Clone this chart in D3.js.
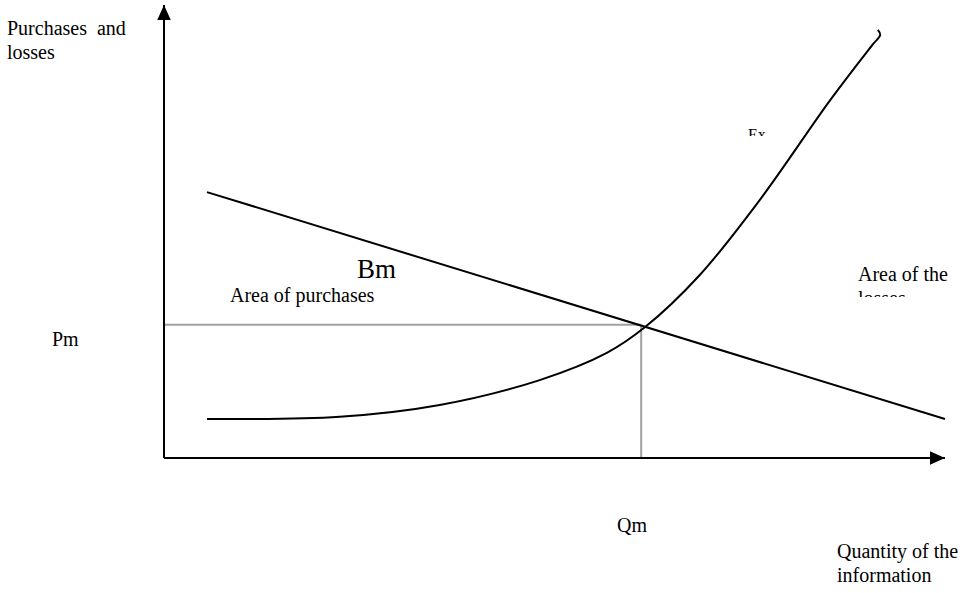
<!DOCTYPE html>
<html>
<head>
<meta charset="utf-8">
<script src="https://cdn.jsdelivr.net/npm/d3@7"></script>
<style>
  body { margin:0; background:#fff; }
  text { font-family: "Liberation Serif", "Times New Roman", serif; fill:#000; }
</style>
</head>
<body>
<div id="canvas"></div>
<script>
// data (axis units 0..100)
var bmLine = [[5.5, 58.7], [100, 8.6]];
var exCurve = [[5.5, 8.6], [22.5, 9.1], [35.3, 11.7], [48.1, 17.2], [56.7, 23.2], [61.6, 28.9],
               [68.6, 40.4], [76.3, 57.0], [85.3, 79.0], [90.7, 91.2], [91.7, 93.4], [91.4, 94.5]];
var pm = 29.4, qm = 61.1;
var yTitle = ['Purchases  and', 'losses'];
var xTitle = ['Quantity of the', 'information'];

var W = 974, H = 593;
var m = {t:5, r:29, b:135, l:164};

var svg = d3.select('#canvas').append('svg')
    .attr('width', W).attr('height', H);

var x = d3.scaleLinear().domain([0,100]).range([m.l, W - m.r]);
var y = d3.scaleLinear().domain([0,100]).range([H - m.b, m.t]);

// arrow markers
var defs = svg.append('defs');
defs.append('marker').attr('id','arr')
    .attr('viewBox','0 0 10 10').attr('refX',10).attr('refY',5)
    .attr('markerWidth',15).attr('markerHeight',15).attr('markerUnits','userSpaceOnUse')
    .attr('orient','auto')
  .append('path').attr('d','M0,0.5L10,5L0,9.5Z').attr('fill','#000');

// guide lines for Pm / Qm
svg.append('line')
    .attr('x1', x(0)).attr('x2', x(qm)).attr('y1', y(pm)).attr('y2', y(pm))
    .attr('stroke','#a0a0a0').attr('stroke-width',2);
svg.append('line')
    .attr('x1', x(qm)).attr('x2', x(qm)).attr('y1', y(pm)).attr('y2', y(0))
    .attr('stroke','#a0a0a0').attr('stroke-width',2);

// axes
svg.append('line')
    .attr('x1', x(0)).attr('y1', y(0)).attr('x2', x(0)).attr('y2', y(100))
    .attr('stroke','#000').attr('stroke-width',2).attr('marker-end','url(#arr)');
svg.append('line')
    .attr('x1', x(0)).attr('y1', y(0)).attr('x2', x(100)).attr('y2', y(0))
    .attr('stroke','#000').attr('stroke-width',2).attr('marker-end','url(#arr)');

var line = d3.line().x(function(d){ return x(d[0]); }).y(function(d){ return y(d[1]); });

svg.append('path').datum(bmLine).attr('d', line)
    .attr('fill','none').attr('stroke','#000').attr('stroke-width',2);

svg.append('path').datum(exCurve).attr('d', line.curve(d3.curveCatmullRom))
    .attr('fill','none').attr('stroke','#000').attr('stroke-width',2);

// labels
svg.append('text').attr('x',7).attr('y',35).attr('font-size',20)
    .attr('xml:space','preserve').style('white-space','pre').text(yTitle[0]);
svg.append('text').attr('x',7).attr('y',59).attr('font-size',20).text(yTitle[1]);

svg.append('text').attr('x',357).attr('y',278).attr('font-size',27).text('Bm');
svg.append('text').attr('x',230).attr('y',302).attr('font-size',20).text('Area of purchases');
svg.append('text').attr('x',52).attr('y',346).attr('font-size',20).text('Pm');
svg.append('text').attr('x',617).attr('y',532).attr('font-size',20).text('Qm');
svg.append('text').attr('x',837).attr('y',558).attr('font-size',20).text(xTitle[0]);
svg.append('text').attr('x',837).attr('y',582).attr('font-size',20).text(xTitle[1]);

// clipped labels
defs.append('clipPath').attr('id','clipEx')
  .append('rect').attr('x',740).attr('y',110).attr('width',40).attr('height',26);
svg.append('text').attr('x',748).attr('y',140).attr('font-size',16)
    .attr('clip-path','url(#clipEx)').text('Ex');

defs.append('clipPath').attr('id','clipLoss')
  .append('rect').attr('x',850).attr('y',250).attr('width',124).attr('height',47);
var g = svg.append('g').attr('clip-path','url(#clipLoss)');
g.append('text').attr('x',858).attr('y',281).attr('font-size',20).text('Area of the');
g.append('text').attr('x',858).attr('y',305).attr('font-size',20).text('losses');
</script>
</body>
</html>
